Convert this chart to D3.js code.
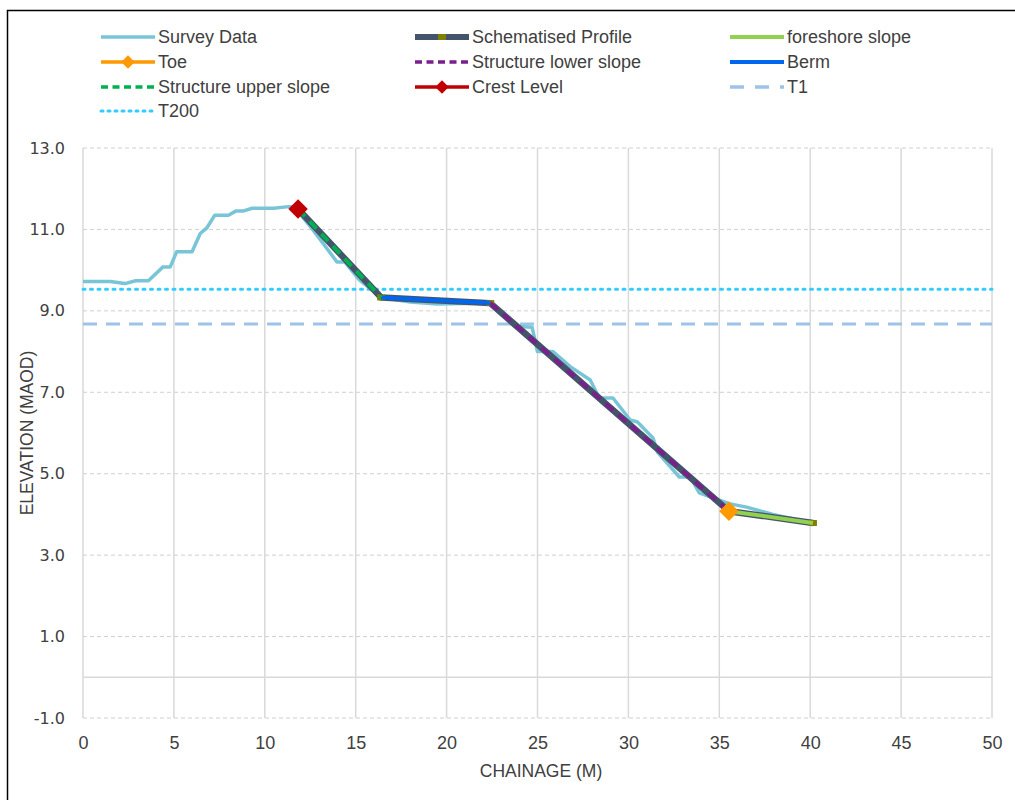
<!DOCTYPE html>
<html>
<head>
<meta charset="utf-8">
<script src="https://cdn.jsdelivr.net/npm/d3@7"></script>
<style>
  body { margin: 0; background: #fff; }
  svg text { font-family: "Liberation Sans Narrow", "Liberation Sans", sans-serif; fill: #404040; }
</style>
</head>
<body>
<svg id="chart" width="1015" height="800"></svg>
<script>
"use strict";

// survey profile [chainage, elevation]
const surveyData = [
  [0, 9.72], [1.5, 9.72], [2.3, 9.67], [2.9, 9.74], [3.6, 9.74], [4.4, 10.08], [4.8, 10.08],
  [5.15, 10.45], [6.0, 10.45], [6.45, 10.9], [6.8, 11.03], [7.25, 11.35], [8.0, 11.35],
  [8.4, 11.45], [8.8, 11.45], [9.3, 11.52], [10.5, 11.52], [11.3, 11.56], [11.6, 11.55],
  [11.9, 11.4], [12.65, 10.99], [13.97, 10.2], [14.4, 10.2], [15.2, 9.76], [16.4, 9.33],
  [18.0, 9.22], [19.5, 9.17], [22.4, 9.19], [23.1, 8.94], [23.75, 8.62], [24.7, 8.6],
  [25.0, 8.0], [25.85, 8.0], [26.8, 7.63], [27.9, 7.3], [28.4, 6.86], [29.15, 6.86],
  [30.1, 6.32], [30.5, 6.27], [31.35, 5.88], [31.6, 5.53], [32.8, 4.92], [33.4, 4.92],
  [33.9, 4.53], [34.5, 4.43], [35.6, 4.26], [36.5, 4.18], [37.95, 4.0], [39.4, 3.86], [40.0, 3.8]
];
const schematisedProfile = [[11.83, 11.5], [16.4, 9.33], [22.4, 9.19], [35.53, 4.08], [40.15, 3.79]];
const foreshoreSlope = [[35.53, 4.08], [40.15, 3.79]];
const toePoint = [[35.53, 4.08]];
const lowerSlope = [[22.4, 9.19], [35.53, 4.08]];
const bermLine = [[16.4, 9.33], [22.4, 9.19]];
const upperSlope = [[11.83, 11.5], [16.4, 9.33]];
const crestPoint = [[11.83, 11.5]];
const t1Line = [[0, 8.68], [50, 8.68]];
const t200Line = [[0, 9.53], [50, 9.53]];

const xTicks = [0, 5, 10, 15, 20, 25, 30, 35, 40, 45, 50];
const yTicks = [-1, 1, 3, 5, 7, 9, 11, 13];

const svg = d3.select("#chart");
const margin = {left: 83, right: 23, top: 148, bottom: 82};
const width = 1015 - margin.left - margin.right;
const height = 800 - margin.top - margin.bottom;

// chart border
svg.append("rect")
    .attr("x", 7.5).attr("y", 10.5)
    .attr("width", 1020).attr("height", 800)
    .attr("fill", "none").attr("stroke", "#000").attr("stroke-width", 1.5);

const g = svg.append("g")
    .attr("transform", "translate(" + margin.left + "," + margin.top + ")");

const x = d3.scaleLinear().domain([0, 50]).range([0, width]);
const y = d3.scaleLinear().domain([-1, 13]).range([height, 0]);

// gridlines
g.selectAll(".vgrid")
    .data(xTicks)
    .enter().append("line")
    .attr("x1", d => x(d)).attr("x2", d => x(d))
    .attr("y1", 0).attr("y2", height)
    .attr("stroke", "#d9d9d9").attr("stroke-width", 1.5);
g.selectAll(".hgrid")
    .data(yTicks)
    .enter().append("line")
    .attr("x1", 0).attr("x2", width)
    .attr("y1", d => y(d)).attr("y2", d => y(d))
    .attr("stroke", "#d0d0d0").attr("stroke-width", 1)
    .attr("stroke-dasharray", "4,3");
// zero line
g.append("line")
    .attr("x1", 0).attr("x2", width)
    .attr("y1", y(0)).attr("y2", y(0))
    .attr("stroke", "#d9d9d9").attr("stroke-width", 1.5);

// axes labels
const xAxis = g.append("g")
    .attr("transform", "translate(0," + height + ")")
    .call(d3.axisBottom(x).tickValues(xTicks).tickSize(0).tickPadding(18).tickFormat(d3.format("d")));
xAxis.select(".domain").remove();
xAxis.selectAll("text").style("font-size", "18px").attr("fill", "#404040")
    .style("font-family", "'Liberation Sans Narrow', 'Liberation Sans', sans-serif");

const yAxis = g.append("g")
    .call(d3.axisLeft(y).tickValues(yTicks).tickSize(0).tickPadding(18)
        .tickFormat(d => d.toFixed(1)));
yAxis.select(".domain").remove();
yAxis.selectAll("text").style("font-size", "16px").attr("fill", "#404040")
    .style("font-family", "'DejaVu Sans', sans-serif");

svg.append("text")
    .attr("x", 541).attr("y", 777)
    .attr("text-anchor", "middle")
    .style("font-size", "17.5px")
    .text("CHAINAGE (M)");
svg.append("text")
    .attr("transform", "translate(33,433) rotate(-90)")
    .attr("text-anchor", "middle")
    .style("font-size", "17.5px")
    .text("ELEVATION (MAOD)");

const line = d3.line().x(d => x(d[0])).y(d => y(d[1]));

function drawLine(data, color, w, dash, cap) {
    g.append("path")
        .datum(data)
        .attr("fill", "none")
        .attr("stroke", color)
        .attr("stroke-width", w)
        .attr("stroke-dasharray", dash || null)
        .attr("stroke-linecap", cap || "butt")
        .attr("stroke-linejoin", "round")
        .attr("d", line);
}

function drawDiamond(data, color, size) {
    g.selectAll(null)
        .data(data)
        .enter().append("path")
        .attr("transform", d => "translate(" + x(d[0]) + "," + y(d[1]) + ") rotate(45)")
        .attr("d", d3.symbol().type(d3.symbolSquare).size(size))
        .attr("fill", color);
}

drawLine(t200Line, "#33ccff", 3, "2,5.5", "round");
drawLine(t1Line, "#9dc3e6", 3, "14,9");
drawLine(surveyData, "#79c5d8", 3.5);
drawLine(schematisedProfile, "#44546a", 6.5);
g.selectAll(".sp-marker")
    .data(schematisedProfile)
    .enter().append("rect")
    .attr("x", d => x(d[0]) - 4).attr("y", d => y(d[1]) - 3)
    .attr("width", 8).attr("height", 6)
    .attr("fill", "#7f7f00");
drawLine(foreshoreSlope, "#92d050", 4);
drawLine(lowerSlope, "#7a1f8c", 4, "10,7");
drawLine(bermLine, "#0066ee", 4);
drawLine(upperSlope, "#00b050", 4, "10,7");
drawDiamond(toePoint, "#ff9900", 190);
drawDiamond(crestPoint, "#c00000", 190);

// legend
const legendItems = [
    {name: "Survey Data", col: 0, row: 0, color: "#79c5d8", w: 3.5},
    {name: "Schematised Profile", col: 1, row: 0, color: "#44546a", w: 6, marker: "rect"},
    {name: "foreshore slope", col: 2, row: 0, color: "#92d050", w: 4},
    {name: "Toe", col: 0, row: 1, color: "#ff9900", w: 3.5, marker: "diamond"},
    {name: "Structure lower slope", col: 1, row: 1, color: "#7a1f8c", w: 3.5, dash: "7,4.5"},
    {name: "Berm", col: 2, row: 1, color: "#0066ee", w: 4},
    {name: "Structure upper slope", col: 0, row: 2, color: "#00b050", w: 3.5, dash: "7,4.5"},
    {name: "Crest Level", col: 1, row: 2, color: "#c00000", w: 3.5, marker: "diamond"},
    {name: "T1", col: 2, row: 2, color: "#9dc3e6", w: 3.5, dash: "14,11"},
    {name: "T200", col: 0, row: 3, color: "#33ccff", w: 3, dash: "2,5", cap: "round"}
];
const colX = [101, 415, 730];
const rowY = [37, 62, 87, 111];

const lg = svg.append("g");
legendItems.forEach(function (d) {
    const lx = colX[d.col], ly = rowY[d.row];
    lg.append("line")
        .attr("x1", lx).attr("x2", lx + 54)
        .attr("y1", ly).attr("y2", ly)
        .attr("stroke", d.color).attr("stroke-width", d.w)
        .attr("stroke-dasharray", d.dash || null)
        .attr("stroke-linecap", d.cap || "butt");
    if (d.marker === "rect") {
        lg.append("rect").attr("x", lx + 23).attr("y", ly - 3)
            .attr("width", 8).attr("height", 6).attr("fill", "#7f7f00");
    } else if (d.marker === "diamond") {
        lg.append("path")
            .attr("transform", "translate(" + (lx + 27) + "," + ly + ") rotate(45)")
            .attr("d", d3.symbol().type(d3.symbolSquare).size(90))
            .attr("fill", d.color);
    }
    lg.append("text")
        .attr("x", lx + 57).attr("y", ly + 6)
        .style("font-size", "18px")
        .text(d.name);
});
</script>
</body>
</html>
